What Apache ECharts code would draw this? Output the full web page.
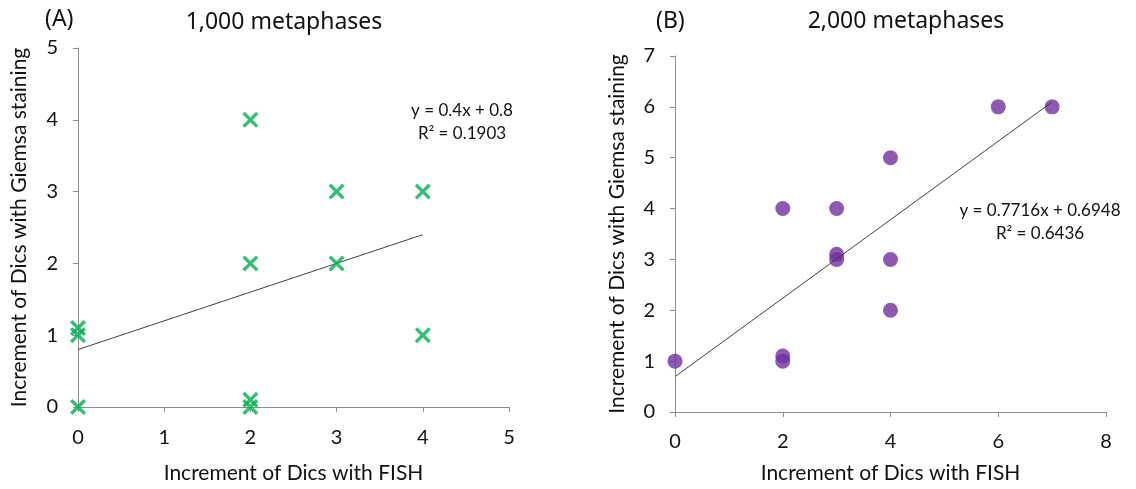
<!DOCTYPE html>
<html>
<head>
<meta charset="utf-8">
<script src="https://cdn.jsdelivr.net/npm/echarts@6/dist/echarts.min.js"></script>
<style>
  html, body { margin: 0; padding: 0; background: #fff; }
  #chart { width: 1136px; height: 489px; }
</style>
</head>
<body>
<div id="chart"></div>
<script>
// 数据：两组散点 + 趋势线
const pointsA = [[0, 0], [0, 1], [0, 1.1], [2, 4], [2, 2], [2, 0.1], [2, 0], [3, 3], [3, 2], [4, 3], [4, 1]];
const trendA = [[0, 0.8], [4, 2.4]];
const pointsB = [[0, 1], [2, 4], [2, 1.1], [2, 1], [3, 4], [3, 3.1], [3, 3], [4, 5], [4, 3], [4, 2], [6, 6], [7, 6]];
const trendB = [[0, 0.6948], [7, 6.096]];
const xTicksA = [0, 1, 2, 3, 4, 5];
const yTicksA = [0, 1, 2, 3, 4, 5];
const xTicksB = [0, 2, 4, 6, 8];
const yTicksB = [0, 1, 2, 3, 4, 5, 6, 7];

const FONT = 'Lato, "Noto Sans", sans-serif';
const TITLE_FONT = '"Noto Sans", Lato, sans-serif';
const AXIS_GRAY = '#8c8c8c';

// X 形标记
const crossPath = 'path://M0,1.5L1.5,0L5,3.5L8.5,0L10,1.5L6.5,5L10,8.5L8.5,10L5,6.5L1.5,10L0,8.5L3.5,5Z';

function xAxisOf(ticks, gridIndex, gap, margin) {
    return {
        type: 'value', gridIndex: gridIndex,
        min: ticks[0], max: ticks[ticks.length - 1], interval: ticks[1] - ticks[0],
        name: 'Increment of Dics with FISH', nameLocation: 'middle', nameGap: gap,
        nameTextStyle: { fontFamily: FONT, fontSize: 21, color: '#111' },
        axisLine: { show: true, lineStyle: { color: AXIS_GRAY } },
        axisTick: { show: true, length: 5, lineStyle: { color: AXIS_GRAY } },
        axisLabel: { fontFamily: FONT, fontSize: 20, color: '#111', margin: margin },
        splitLine: { show: false }
    };
}

function yAxisOf(ticks, gridIndex, gap) {
    return {
        type: 'value', gridIndex: gridIndex,
        min: ticks[0], max: ticks[ticks.length - 1], interval: ticks[1] - ticks[0],
        name: 'Increment of Dics with Giemsa staining', nameLocation: 'middle', nameGap: gap,
        nameTextStyle: { fontFamily: FONT, fontSize: 21, color: '#111' },
        axisLine: { show: true, lineStyle: { color: AXIS_GRAY } },
        axisTick: { show: true, length: 5, lineStyle: { color: AXIS_GRAY } },
        axisLabel: { fontFamily: FONT, fontSize: 20, color: '#111', margin: 20 },
        splitLine: { show: false }
    };
}

const chart = echarts.init(document.getElementById('chart'), null, { renderer: 'canvas' });
chart.setOption({
    backgroundColor: '#fff',
    animation: false,
    title: [
        { text: '(A)', left: 40, top: 3, textStyle: { fontFamily: TITLE_FONT, fontSize: 23, fontWeight: 'normal', color: '#111' } },
        { text: '1,000 metaphases', left: 279, top: 6, textAlign: 'center', textStyle: { fontFamily: TITLE_FONT, fontSize: 23, fontWeight: 'normal', color: '#111' } },
        { text: '(B)', left: 651, top: 5, textStyle: { fontFamily: TITLE_FONT, fontSize: 23, fontWeight: 'normal', color: '#111' } },
        { text: '2,000 metaphases', left: 901, top: 5, textAlign: 'center', textStyle: { fontFamily: TITLE_FONT, fontSize: 23, fontWeight: 'normal', color: '#111' } }
    ],
    grid: [
        { left: 78, right: 627, top: 48, bottom: 82 },
        { left: 675, right: 30, top: 56, bottom: 73 }
    ],
    xAxis: [xAxisOf(xTicksA, 0, 56, 21), xAxisOf(xTicksB, 1, 51, 20)],
    yAxis: [yAxisOf(yTicksA, 0, 48), yAxisOf(yTicksB, 1, 47)],
    graphic: [
        { type: 'text', x: 462, y: 122, style: { text: 'y = 0.4x + 0.8\nR² = 0.1903', fontFamily: FONT, fontSize: 17, lineHeight: 23, fill: '#111', align: 'center', verticalAlign: 'middle' } },
        { type: 'text', x: 1040, y: 222, style: { text: 'y = 0.7716x + 0.6948\nR² = 0.6436', fontFamily: FONT, fontSize: 17, lineHeight: 23, fill: '#111', align: 'center', verticalAlign: 'middle' } }
    ],
    series: [
        {
            type: 'line', xAxisIndex: 0, yAxisIndex: 0, data: trendA,
            symbol: 'none', lineStyle: { color: '#404040', width: 1 }, z: 1
        },
        {
            type: 'scatter', xAxisIndex: 0, yAxisIndex: 0, data: pointsA,
            symbol: crossPath, symbolSize: 16, itemStyle: { color: '#00b050' }, z: 2
        },
        {
            type: 'line', xAxisIndex: 1, yAxisIndex: 1, data: trendB,
            symbol: 'none', lineStyle: { color: '#404040', width: 1 }, z: 3
        },
        {
            type: 'scatter', xAxisIndex: 1, yAxisIndex: 1, data: pointsB,
            symbol: 'circle', symbolSize: 15, itemStyle: { color: '#7030a0' }, z: 2
        }
    ]
});
</script>
</body>
</html>
